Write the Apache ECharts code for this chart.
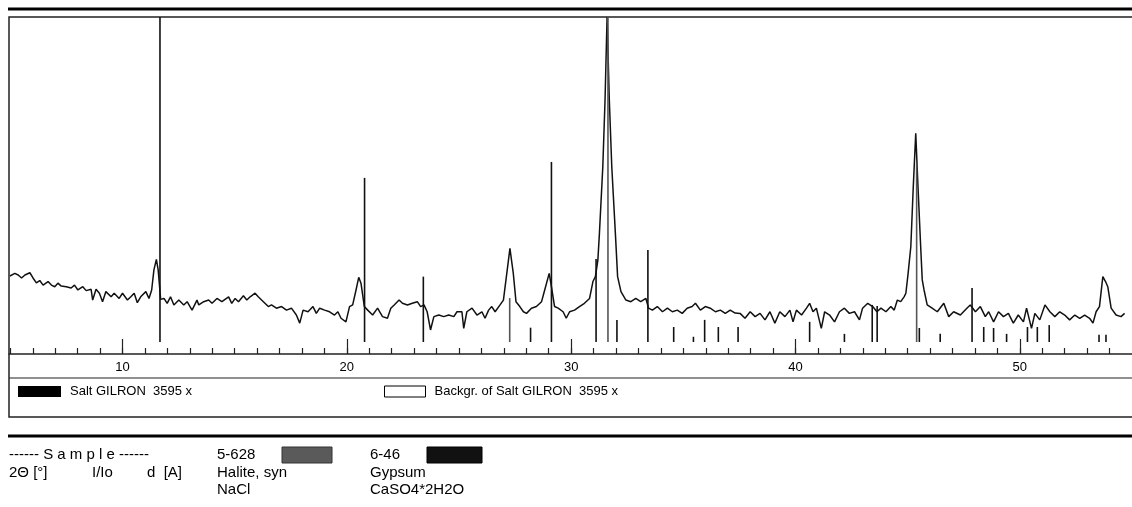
<!DOCTYPE html>
<html>
<head>
<meta charset="utf-8">
<title>Salt GILRON XRD</title>
<script src="https://cdn.jsdelivr.net/npm/echarts@6/dist/echarts.min.js"></script>
<style>
  html, body { margin: 0; padding: 0; background: #fff; }
  #main { width: 1132px; height: 507px; }
</style>
</head>
<body>
<div id="main"></div>
<script>
// measured scan (2-theta in degrees, intensity in % of the strongest peak)
var scanAngle = [4.98,5.20,5.35,5.50,5.65,5.87,6.01,6.16,6.31,6.46,6.68,6.83,6.98,7.12,7.27,7.49,7.71,7.86,8.01,8.23,
    8.38,8.60,8.67,8.82,8.97,9.11,9.26,9.49,9.63,9.85,10.00,10.22,10.37,10.52,10.66,10.81,11.04,11.18,11.30,11.40,
    11.51,11.59,11.70,11.85,11.99,12.14,12.29,12.51,12.73,12.88,13.10,13.32,
    13.40,13.62,13.84,13.99,14.21,14.43,14.73,14.87,15.02,15.17,
    15.39,15.54,15.69,15.91,16.05,16.28,16.50,16.64,16.86,17.09,
    17.31,17.53,17.75,17.90,18.05,18.27,18.49,18.64,18.79,19.01,
    19.23,19.45,19.60,19.74,19.96,20.12,20.26,20.41,20.53,20.63,
    20.78,20.93,21.15,21.37,21.59,21.81,21.96,22.11,22.33,22.48,
    22.70,22.92,23.14,23.29,23.44,23.58,23.73,23.88,24.10,24.32,
    24.54,24.77,24.91,25.13,25.21,25.35,25.58,25.80,26.02,26.16,
    26.32,26.46,26.61,26.83,26.98,27.13,27.27,27.42,27.54,27.71,
    27.87,28.01,28.23,28.45,28.68,28.82,29.02,29.12,29.26,29.42,
    29.64,29.78,29.93,30.15,30.37,30.59,30.82,30.97,31.08,31.19,
    31.26,31.41,31.51,31.60,31.70,31.81,31.97,32.07,32.22,32.44,
    32.66,32.88,33.10,33.33,33.45,33.62,33.84,34.07,34.29,34.51,
    34.73,34.95,35.17,35.39,35.54,35.76,35.98,36.20,36.43,36.65,
    36.87,37.09,37.31,37.53,37.75,37.98,38.20,38.42,38.64,38.86,
    39.08,39.30,39.53,39.75,39.89,40.04,40.27,40.49,40.63,40.78,
    40.93,41.15,41.30,41.52,41.74,41.96,42.18,42.40,42.63,42.85,
    42.99,43.22,43.44,43.63,43.81,44.03,44.25,44.40,44.54,44.69,
    44.84,44.92,45.02,45.14,45.25,45.36,45.46,45.58,45.65,45.73,
    45.87,46.09,46.32,46.61,46.83,47.05,47.35,47.64,47.79,48.02,
    48.24,48.46,48.61,48.83,49.05,49.27,49.49,49.71,49.93,50.16,
    50.30,50.52,50.67,50.89,51.12,51.34,51.56,51.78,52.00,52.22,
    52.45,52.67,52.89,53.11,53.26,53.40,53.55,53.70,53.82,53.92,
    54.07,54.29,54.51,54.67];
var scanIntensity = [20.3,21.1,20.6,19.7,20.6,21.3,19.7,18.2,18.9,17.5,18.6,17.5,17.0,18.1,17.2,17.0,16.6,17.5,16.0,17.0,
    15.8,16.2,12.9,16.2,15.0,12.4,15.5,13.9,15.0,13.4,15.0,12.9,13.9,15.0,12.1,13.9,15.5,13.4,16.0,22.2,
    25.4,22.2,13.1,13.4,11.9,13.9,11.4,12.9,11.4,12.4,9.8,12.9,
    11.4,12.4,12.9,11.9,13.4,12.4,13.9,11.9,13.4,12.4,
    14.2,12.9,13.9,15.0,13.9,12.4,10.9,11.4,10.4,10.9,
    9.8,10.4,8.3,5.8,9.8,9.3,10.9,8.8,10.4,9.8,
    9.3,8.3,9.3,7.3,6.2,10.9,11.4,16.0,19.9,18.1,
    10.9,9.8,8.3,10.4,7.8,7.3,10.4,11.4,12.9,11.9,
    11.4,11.9,12.4,10.9,11.4,9.3,3.7,7.8,8.3,7.8,
    8.3,7.8,9.3,9.3,4.2,9.3,10.4,8.3,9.3,7.3,
    9.8,10.9,9.3,11.4,12.9,21.1,28.8,21.1,12.4,10.9,
    9.3,8.8,10.4,10.9,12.4,16.0,21.1,17.0,10.9,10.4,
    9.3,7.3,9.3,9.8,10.9,11.9,13.4,18.6,20.1,25.2,
    33.5,53.9,74.5,100,74.5,53.9,33.5,20.1,15.5,12.9,
    12.4,13.4,12.4,13.4,10.4,9.8,10.9,9.3,10.4,9.3,
    9.8,8.8,10.4,10.9,11.9,9.8,10.9,10.4,9.3,9.8,
    8.8,9.8,8.9,8.8,7.3,9.3,7.8,8.8,6.8,9.3,
    5.8,9.3,7.8,9.8,6.2,9.8,8.3,10.4,11.9,9.3,
    10.4,4.2,9.3,8.3,6.2,9.3,10.4,8.8,9.3,6.8,
    10.4,11.9,10.9,9.3,10.4,9.3,10.9,9.8,12.9,12.4,
    13.9,15.0,21.1,29.3,47.8,64.2,47.8,29.3,19.1,16.0,
    11.4,10.4,9.3,11.9,7.8,9.3,8.3,10.4,11.4,9.3,
    10.9,7.8,9.3,6.2,9.3,7.8,8.8,5.8,8.3,6.2,
    10.4,4.2,8.8,6.8,11.4,9.3,7.8,9.3,8.3,6.8,
    8.3,7.3,8.3,7.3,5.8,9.3,10.9,20.1,18.6,17.0,
    10.4,8.3,7.8,8.8];

// reference patterns (stick positions and I/Io in %)
var halitePos = [27.26, 31.64, 45.40];
var haliteInt = [13.5, 100, 55];
var gypsumPos = [11.67, 20.79, 23.41, 28.19, 29.12, 31.11, 32.04, 33.42, 34.57, 35.45,
    35.95, 36.56, 37.44, 40.63, 42.18, 43.42, 43.64, 45.52, 46.45, 47.87,
    48.39, 48.83, 49.41, 50.34, 50.78, 51.31, 53.53, 53.84];
var gypsumInt = [100, 50.5, 20.1, 4.4, 55.4, 25.5, 6.8, 28.3, 4.6, 1.6,
    6.8, 4.6, 4.6, 6.2, 2.5, 11.4, 11.1, 4.3, 2.5, 16.6,
    4.6, 4.3, 2.5, 4.6, 4.6, 5.2, 2.2, 2.2];

var majorTicks = [10, 20, 30, 40, 50];
var minorTicks = [];
for (var t = 5; t <= 54; t++) minorTicks.push(t);

function pairs(xs, ys) {
    var out = [];
    for (var i = 0; i < xs.length; i++) out.push([xs[i], ys[i]]);
    return out;
}

function stickSeries(name, xs, ys, color) {
    return {
        name: name,
        type: 'custom',
        xAxisIndex: 0,
        z: 5,
        clip: true,
        data: pairs(xs, ys),
        renderItem: function (params, api) {
            var p0 = api.coord([api.value(0), 0]);
            var p1 = api.coord([api.value(0), api.value(1)]);
            return {
                type: 'line',
                shape: {x1: p0[0], y1: p0[1], x2: p1[0], y2: p1[1]},
                style: {stroke: color, lineWidth: 1.6}
            };
        }
    };
}

var FONT = '"Liberation Sans", Arial, sans-serif';

function label(text, x, y) {
    return {
        type: 'text', left: x, top: y - 8,
        style: {text: text, fill: '#000', font: '15px ' + FONT}
    };
}

var chart = echarts.init(document.getElementById('main'));

var option = {
    animation: false,
    backgroundColor: '#fff',
    textStyle: {fontFamily: FONT},
    grid: {left: 9, right: -7.4, top: 17, bottom: 153},
    legend: [{
        left: 18, top: 385, padding: 0, icon: 'rect',
        itemWidth: 43, itemHeight: 11, selectedMode: false,
        data: [{name: 'Salt GILRON  3595 x', itemStyle: {color: '#000'}}],
        textStyle: {fontSize: 13, color: '#000', fontFamily: FONT, padding: [0, 0, 0, 4]}
    }, {
        left: 384, top: 385, padding: 0, icon: 'rect',
        itemWidth: 41, itemHeight: 11, selectedMode: false,
        data: [{name: 'Backgr. of Salt GILRON  3595 x',
            itemStyle: {color: '#fff', borderColor: '#000', borderWidth: 1}}],
        textStyle: {fontSize: 13, color: '#000', fontFamily: FONT, padding: [0, 0, 0, 4]}
    }],
    xAxis: [{
        type: 'value', min: 4.94, max: 55, position: 'bottom',
        axisLine: {show: true, onZero: false, lineStyle: {color: '#222', width: 1.5}},
        axisTick: {show: true, inside: true, length: 15, customValues: majorTicks,
            lineStyle: {color: '#222', width: 1.2}},
        axisLabel: {customValues: majorTicks, fontSize: 13, color: '#000', margin: 7, fontFamily: FONT},
        splitLine: {show: false}
    }, {
        type: 'value', min: 4.94, max: 55, position: 'bottom',
        axisLine: {show: false, onZero: false},
        axisTick: {show: true, inside: true, length: 6, customValues: minorTicks,
            lineStyle: {color: '#222', width: 1.2}},
        axisLabel: {show: false},
        splitLine: {show: false}
    }],
    yAxis: {
        type: 'value', min: -3.7, max: 100, show: false
    },
    graphic: [
        {type: 'line', shape: {x1: 8, y1: 9, x2: 1132, y2: 9}, style: {stroke: '#000', lineWidth: 3}},
        {type: 'rect', shape: {x: 9, y: 17, width: 1140, height: 400},
            style: {fill: null, stroke: '#222', lineWidth: 1.5}},
        {type: 'line', shape: {x1: 9, y1: 378, x2: 1132, y2: 378}, style: {stroke: '#222', lineWidth: 1.2}},
        {type: 'line', shape: {x1: 8, y1: 436, x2: 1132, y2: 436}, style: {stroke: '#000', lineWidth: 3}},
        label('------ S a m p l e ------', 9, 455),
        label('2\u0398 [\u00b0]', 9, 473),
        label('I/Io', 92, 473),
        label('d  [A]', 147, 473),
        label('5-628', 217, 455),
        {type: 'rect', shape: {x: 282, y: 447, width: 50, height: 16},
            style: {fill: '#5a5a5a', stroke: '#333', lineWidth: 1}},
        label('Halite, syn', 217, 473),
        label('NaCl', 217, 490),
        label('6-46', 370, 455),
        {type: 'rect', shape: {x: 427, y: 447, width: 55, height: 16},
            style: {fill: '#111', stroke: '#000', lineWidth: 1}},
        label('Gypsum', 370, 473),
        label('CaSO4*2H2O', 370, 490)
    ],
    series: [{
        name: 'Salt GILRON  3595 x',
        type: 'line',
        xAxisIndex: 0,
        symbol: 'none',
        z: 3,
        itemStyle: {color: '#000'},
        lineStyle: {color: '#111', width: 1.5},
        data: pairs(scanAngle, scanIntensity)
    }, {
        name: 'Backgr. of Salt GILRON  3595 x',
        type: 'line',
        xAxisIndex: 0,
        symbol: 'none',
        itemStyle: {color: '#fff'},
        data: []
    },
        stickSeries('5-628', halitePos, haliteInt, '#555'),
        stickSeries('6-46', gypsumPos, gypsumInt, '#111')
    ]
};

chart.setOption(option);
</script>
</body>
</html>
